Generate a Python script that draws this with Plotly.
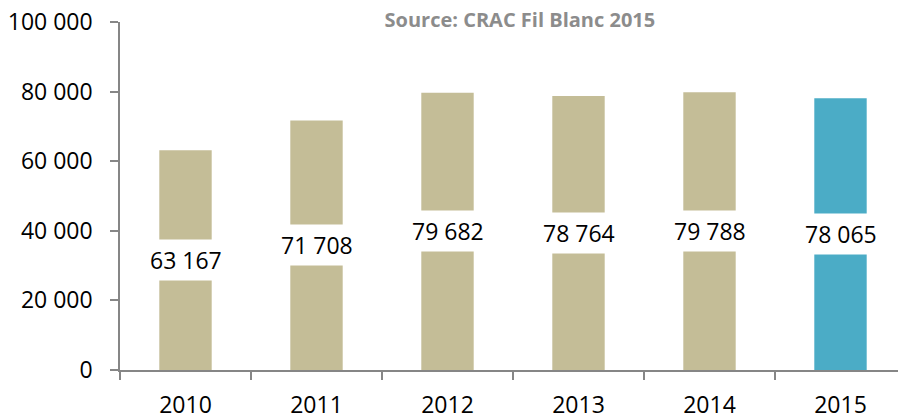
import plotly.graph_objects as go

# Data
years = ["2010", "2011", "2012", "2013", "2014", "2015"]
values = [63167, 71708, 79682, 78764, 79788, 78065]
colors = ["#C4BD97", "#C4BD97", "#C4BD97", "#C4BD97", "#C4BD97", "#4BACC6"]
y_ticks = [0, 20000, 40000, 60000, 80000, 100000]

fig = go.Figure()

fig.add_trace(go.Bar(
    x=years,
    y=values,
    marker_color=colors,
    marker_line_width=0,
    width=0.4,
    hoverinfo="x+y",
))

# Value labels sitting on a white box in the middle of each bar
# (category axis -> annotations use the category index)
for i, v in enumerate(values):
    fig.add_annotation(
        x=i, y=v / 2,
        text=f"{v:,}".replace(",", " "),
        showarrow=False,
        font=dict(family="Open Sans", size=23, color="#000000"),
        bgcolor="#FFFFFF",
        borderpad=4,
    )

# page body has an 8px margin, so the figure is sized 8px smaller
fig.update_layout(
    width=898, height=411,
    margin=dict(l=112, r=0, t=14, b=49),
    plot_bgcolor="white",
    paper_bgcolor="white",
    showlegend=False,
    separators=", ",
    title=dict(
        text="<b>Source: CRAC Fil Blanc 2015</b>",
        font=dict(family="Open Sans", size=20, color="#8C8C8C"),
        x=0.570, xanchor="center",
        y=0.972, yanchor="middle", yref="container",
    ),
    font=dict(family="Open Sans", size=23, color="#000000"),
    bargap=0.6,
)

fig.update_yaxes(
    range=[0, 100000],
    tickvals=y_ticks,
    tickformat=",d",
    showgrid=False,
    zeroline=False,
    showline=True,
    linecolor="#868686",
    linewidth=1.5,
    ticks="outside",
    ticklen=8,
    tickcolor="#868686",
    tickwidth=1.5,
    ticklabelstandoff=13,
    ticklabeloverflow="allow",
    tickfont=dict(size=23),
    automargin=False,
)

fig.update_xaxes(
    type="category",
    range=[-0.5, 5.5],
    showgrid=False,
    showline=True,
    linecolor="#868686",
    linewidth=1.5,
    ticks="outside",
    tickson="boundaries",
    ticklen=8,
    tickcolor="#868686",
    tickwidth=1.5,
    tickangle=0,
    ticklabelstandoff=14,
    tickfont=dict(size=23),
    automargin=False,
)

fig.write_html("out.html")
